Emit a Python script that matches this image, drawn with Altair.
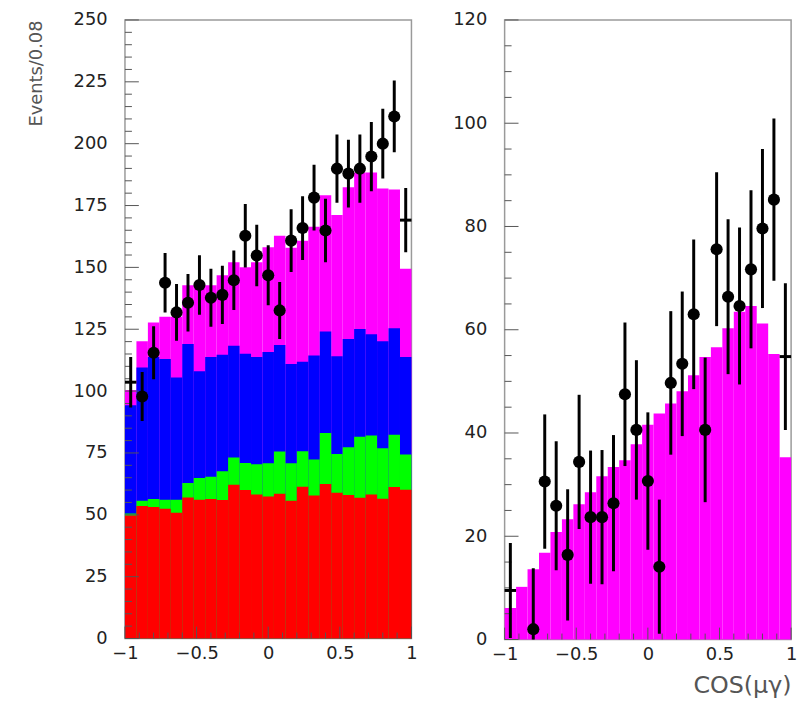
import altair as alt
import pandas as pd

# ---- bins (width 0.08 over [-1, 1]) ----
centers = [-0.96, -0.88, -0.80, -0.72, -0.64, -0.56, -0.48, -0.40, -0.32, -0.24,
           -0.16, -0.08, 0.00, 0.08, 0.16, 0.24, 0.32, 0.40, 0.48, 0.56,
           0.64, 0.72, 0.80, 0.88, 0.96]
bin_half = 0.04

# ---- left panel: cumulative tops of the stacked components ----
left_red = [49.7, 53.6, 53.2, 52.4, 50.8, 57.0, 56.1, 56.4, 56.0, 62.1,
            60.0, 58.2, 57.4, 58.5, 55.7, 61.3, 57.8, 62.5, 58.9, 58.0,
            56.9, 58.2, 56.5, 61.2, 60.1]
left_green = [50.5, 55.7, 56.4, 56.1, 56.1, 62.9, 64.9, 65.4, 67.6, 73.2,
              70.9, 70.4, 70.8, 75.6, 70.8, 75.7, 72.4, 83.1, 74.6, 77.3,
              81.5, 82.1, 76.9, 82.4, 74.4]
left_blue = [94.3, 109.5, 113.8, 113.0, 105.5, 119.0, 108.0, 113.8, 114.7, 118.3,
             115.1, 113.8, 115.8, 118.6, 111.0, 111.9, 114.4, 124.1, 114.1, 121.1,
             125.1, 123.0, 120.1, 125.4, 113.8]
left_magenta = [100.4, 120.1, 127.7, 130.1, 130.1, 142.8, 142.8, 142.8, 146.8, 152.1,
                150.1, 152.1, 158.1, 162.8, 157.9, 160.8, 166.4, 179.2, 171.2, 182.4,
                188.4, 188.4, 181.9, 181.5, 149.4]
left_data = [103.6, 97.8, 115.5, 143.8, 131.8, 135.7, 142.9, 137.7, 138.9, 144.8,
             162.8, 154.8, 146.8, 132.6, 160.8, 165.9, 178.2, 164.9, 189.9, 187.9,
             189.9, 194.8, 200.0, 211.0, 169.1]
left_err = [10.2, 9.9, 10.7, 12.0, 11.5, 11.6, 12.0, 11.7, 11.8, 12.0,
            12.8, 12.4, 12.1, 11.5, 12.7, 12.9, 13.3, 12.8, 13.8, 13.7,
            13.8, 14.0, 14.1, 14.5, 13.0]

# ---- right panel ----
right_magenta = [6.1, 10.2, 13.6, 16.8, 20.8, 23.3, 26.2, 28.5, 31.6, 33.4,
                 34.7, 37.8, 41.6, 43.8, 45.7, 48.1, 51.2, 54.7, 56.6, 60.3,
                 63.5, 64.6, 61.2, 55.3, 35.3]
right_data = [9.5, None, 2.0, 30.6, 25.9, 16.4, 34.4, 23.7, 23.7, 26.4,
              47.5, 40.6, 30.7, 14.1, 49.7, 53.4, 63.0, 40.6, 75.6, 66.4,
              64.6, 71.7, 79.6, 85.2, 54.8]
right_err = [9.2, None, 11.8, 13.0, 12.5, 12.7, 13.0, 12.9, 13.0, 13.2,
             13.9, 13.5, 13.3, 13.0, 13.9, 14.0, 14.5, 14.0, 14.9, 15.0,
             15.2, 15.3, 15.4, 15.7, 14.2]

marker_kind = ["cross"] + ["dot"] * 23 + ["cross"]

# ---- axis ticks ----
x_major = [-1, -0.5, 0, 0.5, 1]
x_minor = [-0.9, -0.8, -0.7, -0.6, -0.4, -0.3, -0.2, -0.1,
           0.1, 0.2, 0.3, 0.4, 0.6, 0.7, 0.8, 0.9]
left_y_major = [0, 25, 50, 75, 100, 125, 150, 175, 200, 225, 250]
left_y_minor = [v for v in range(5, 250, 5) if v % 25]
right_y_major = [0, 20, 40, 60, 80, 100, 120]
right_y_minor = [v for v in range(5, 120, 5) if v % 20]

PW = 289
TICK_COLOR = "#555555"


def panel(hists, data, err, ymax, ymajor, yminor, height, ytitle, xtitle):
    xs = alt.Scale(domain=[-1, 1], nice=False, zero=False)
    ys = alt.Scale(domain=[0, ymax], nice=False, zero=True)
    xaxis = alt.Axis(values=x_major, format=".1~f", ticks=False, domain=False,
                     grid=False, labelPadding=6, labelFlush=False, titleAnchor="end",
                     titlePadding=10, titleFontSize=24, titleFont="DejaVu Sans",
                     titleColor="#555555", titleFontWeight="normal")
    yaxis = alt.Axis(values=ymajor, ticks=False, domain=False, grid=False,
                     labelFlush=False, labelPadding=18, titlePadding=28,
                     titleAnchor="end")

    def X(field):
        return alt.X(field, type="quantitative", scale=xs, axis=xaxis, title=xtitle)

    def Y(field):
        return alt.Y(field, type="quantitative", scale=ys, axis=yaxis, title=ytitle)

    layers = []
    for tops, color in hists:
        df = pd.DataFrame({
            "lo": [c - bin_half for c in centers],
            "hi": [c + bin_half for c in centers],
            "top": tops,
            "base": [0] * len(centers),
        })
        layers.append(
            alt.Chart(df).mark_rect(color=color, strokeWidth=0).encode(
                x=X("lo"), x2=alt.X2("hi"), y=Y("top"), y2=alt.Y2("base")
            )
        )

    # inside tick marks
    def ytick_layer(vals, length):
        df = pd.DataFrame({"v": vals})
        return alt.Chart(df).mark_rule(color=TICK_COLOR, strokeWidth=1).encode(
            y=Y("v"), x=alt.value(0), x2=alt.value(length))

    def xtick_layer(vals, length):
        df = pd.DataFrame({"v": vals})
        return alt.Chart(df).mark_rule(color=TICK_COLOR, strokeWidth=1).encode(
            x=X("v"), y=alt.value(height), y2=alt.value(height - length))

    layers += [ytick_layer(ymajor, 14), ytick_layer(yminor, 7),
               xtick_layer(x_major, 12), xtick_layer(x_minor, 6)]

    rows = []
    for c, v, e, k in zip(centers, data, err, marker_kind):
        if v is None:
            continue
        rows.append({"c": c, "lo": c - bin_half, "hi": c + bin_half, "v": v,
                     "elo": v - e, "ehi": v + e, "kind": k})
    pts = pd.DataFrame(rows)

    layers.append(
        alt.Chart(pts).mark_rule(color="black", strokeWidth=3, clip=True).encode(
            x=X("c"), y=Y("elo"), y2=alt.Y2("ehi"))
    )
    layers.append(
        alt.Chart(pts).transform_filter(alt.datum.kind == "cross")
        .mark_rule(color="black", strokeWidth=3).encode(
            x=X("lo"), x2=alt.X2("hi"), y=Y("v"))
    )
    layers.append(
        alt.Chart(pts).transform_filter(alt.datum.kind == "dot")
        .mark_circle(color="black", size=150, opacity=1).encode(
            x=X("c"), y=Y("v"))
    )
    return alt.layer(*layers).properties(width=PW, height=height)


left = panel(
    [(left_magenta, "#ff00ff"), (left_blue, "#0000ff"),
     (left_green, "#00ff00"), (left_red, "#ff0000")],
    left_data, left_err, 250, left_y_major, left_y_minor, 624,
    "Events/0.08", None)

right = panel(
    [(right_magenta, "#ff00ff")],
    right_data, right_err, 120, right_y_major, right_y_minor, 625,
    None, "COS(μγ)")

chart = (
    alt.hconcat(left, right, spacing=33)
    .properties(padding={"left": 18, "top": -1, "right": 5, "bottom": 5})
    .configure_view(stroke="#9a9a9a", strokeWidth=1.5)
    .configure_axis(labelFont="DejaVu Sans", labelFontSize=18, labelColor="#222222",
                    titleFont="DejaVu Sans", titleFontSize=18, titleColor="#555555",
                    titleFontWeight="normal")
)

chart.save("out.html", embed_options={"renderer": "svg", "actions": False})
